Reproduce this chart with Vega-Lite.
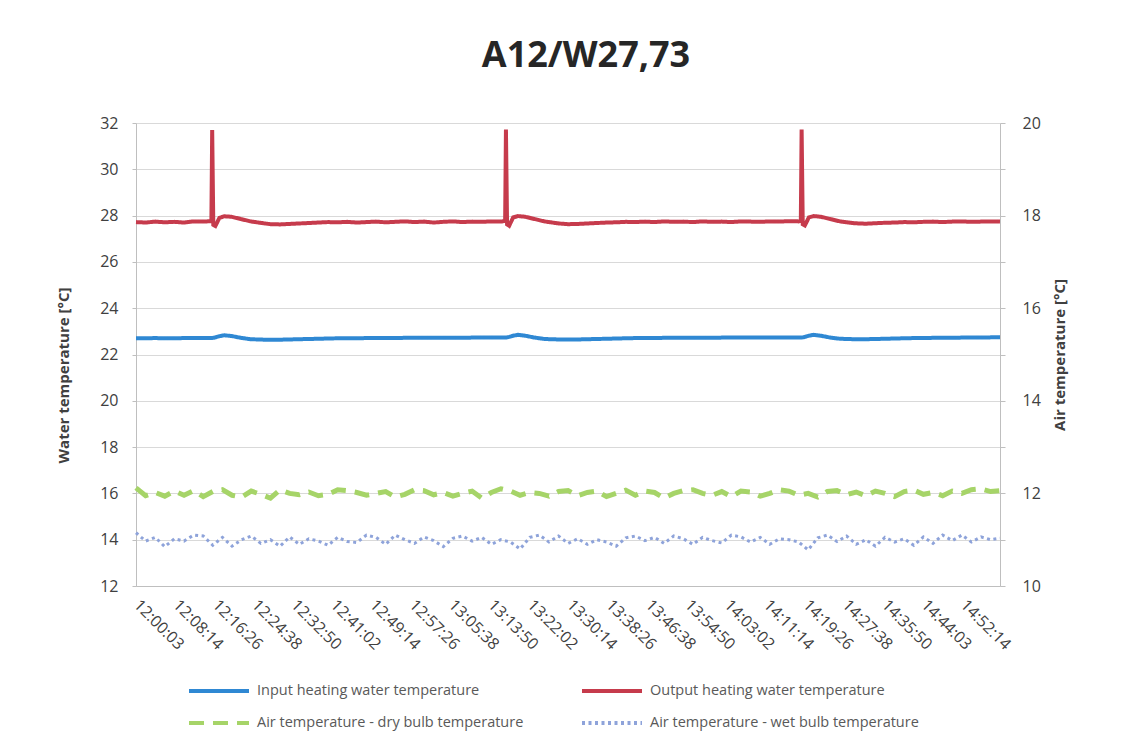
{
  "$schema": "https://vega.github.io/schema/vega-lite/v6.json",
  "width": 864,
  "height": 463,
  "autosize": {"type": "none"},
  "padding": {"left": 136, "top": 123, "right": 128, "bottom": 167},
  "background": "white",
  "config": {
    "font": "Open Sans",
    "view": {"stroke": null},
    "axis": {"labelColor": "#404040", "titleColor": "#404040", "domainColor": "#bfbfbf", "tickColor": "#bfbfbf", "gridColor": "#d9d9d9"}
  },
  "title": {"text": "A12/W27,73", "fontSize": 36, "fontWeight": "bold", "font": "Open Sans", "color": "#262626", "anchor": "middle", "dx": 18, "offset": 40},
  "datasets": {
    "water": [
      {"t": "12:00:03", "in": 22.70, "out": 27.72},
      {"t": "12:02:03", "in": 22.70, "out": 27.70},
      {"t": "12:04:03", "in": 22.71, "out": 27.74},
      {"t": "12:06:03", "in": 22.70, "out": 27.71},
      {"t": "12:08:03", "in": 22.70, "out": 27.73},
      {"t": "12:10:03", "in": 22.71, "out": 27.70},
      {"t": "12:12:03", "in": 22.71, "out": 27.75},
      {"t": "12:14:03", "in": 22.71, "out": 27.74},
      {"t": "12:15:45", "in": 22.71, "out": 27.76},
      {"t": "12:15:55", "in": 22.71, "out": 31.70},
      {"t": "12:16:09", "in": 22.72, "out": 27.60},
      {"t": "12:16:35", "in": 22.74, "out": 27.55},
      {"t": "12:17:25", "in": 22.79, "out": 27.90},
      {"t": "12:18:25", "in": 22.83, "out": 27.97},
      {"t": "12:19:55", "in": 22.80, "out": 27.95},
      {"t": "12:21:55", "in": 22.72, "out": 27.85},
      {"t": "12:23:55", "in": 22.66, "out": 27.75},
      {"t": "12:26:55", "in": 22.64, "out": 27.66},
      {"t": "12:28:03", "in": 22.64, "out": 27.63},
      {"t": "12:30:03", "in": 22.64, "out": 27.62},
      {"t": "12:32:03", "in": 22.65, "out": 27.64},
      {"t": "12:34:03", "in": 22.66, "out": 27.66},
      {"t": "12:36:03", "in": 22.67, "out": 27.68},
      {"t": "12:38:03", "in": 22.68, "out": 27.70},
      {"t": "12:40:03", "in": 22.69, "out": 27.72},
      {"t": "12:42:03", "in": 22.70, "out": 27.71},
      {"t": "12:44:03", "in": 22.70, "out": 27.73},
      {"t": "12:46:03", "in": 22.70, "out": 27.70},
      {"t": "12:48:03", "in": 22.71, "out": 27.72},
      {"t": "12:50:03", "in": 22.71, "out": 27.74},
      {"t": "12:52:03", "in": 22.71, "out": 27.71},
      {"t": "12:54:03", "in": 22.71, "out": 27.73},
      {"t": "12:56:03", "in": 22.72, "out": 27.75},
      {"t": "12:58:03", "in": 22.72, "out": 27.72},
      {"t": "13:00:03", "in": 22.72, "out": 27.74},
      {"t": "13:02:03", "in": 22.72, "out": 27.70},
      {"t": "13:04:03", "in": 22.72, "out": 27.73},
      {"t": "13:06:03", "in": 22.72, "out": 27.75},
      {"t": "13:08:03", "in": 22.72, "out": 27.72},
      {"t": "13:10:03", "in": 22.73, "out": 27.74},
      {"t": "13:12:03", "in": 22.73, "out": 27.73},
      {"t": "13:14:03", "in": 22.73, "out": 27.75},
      {"t": "13:16:03", "in": 22.73, "out": 27.74},
      {"t": "13:16:56", "in": 22.73, "out": 27.77},
      {"t": "13:17:06", "in": 22.73, "out": 31.72},
      {"t": "13:17:20", "in": 22.74, "out": 27.62},
      {"t": "13:17:46", "in": 22.76, "out": 27.56},
      {"t": "13:18:36", "in": 22.81, "out": 27.92},
      {"t": "13:19:36", "in": 22.85, "out": 27.98},
      {"t": "13:21:06", "in": 22.81, "out": 27.95},
      {"t": "13:23:06", "in": 22.73, "out": 27.85},
      {"t": "13:25:06", "in": 22.67, "out": 27.75},
      {"t": "13:28:06", "in": 22.65, "out": 27.66},
      {"t": "13:30:03", "in": 22.65, "out": 27.63},
      {"t": "13:32:03", "in": 22.65, "out": 27.64},
      {"t": "13:34:03", "in": 22.66, "out": 27.66},
      {"t": "13:36:03", "in": 22.67, "out": 27.68},
      {"t": "13:38:03", "in": 22.68, "out": 27.70},
      {"t": "13:40:03", "in": 22.69, "out": 27.71},
      {"t": "13:42:03", "in": 22.70, "out": 27.73},
      {"t": "13:44:03", "in": 22.71, "out": 27.72},
      {"t": "13:46:03", "in": 22.71, "out": 27.74},
      {"t": "13:48:03", "in": 22.71, "out": 27.72},
      {"t": "13:50:03", "in": 22.72, "out": 27.75},
      {"t": "13:52:03", "in": 22.72, "out": 27.73},
      {"t": "13:54:03", "in": 22.72, "out": 27.74},
      {"t": "13:56:03", "in": 22.72, "out": 27.72},
      {"t": "13:58:03", "in": 22.72, "out": 27.75},
      {"t": "14:00:03", "in": 22.72, "out": 27.73},
      {"t": "14:02:03", "in": 22.73, "out": 27.74},
      {"t": "14:04:03", "in": 22.73, "out": 27.72},
      {"t": "14:06:03", "in": 22.73, "out": 27.75},
      {"t": "14:08:03", "in": 22.73, "out": 27.74},
      {"t": "14:10:03", "in": 22.73, "out": 27.73},
      {"t": "14:12:03", "in": 22.73, "out": 27.75},
      {"t": "14:14:03", "in": 22.73, "out": 27.74},
      {"t": "14:16:03", "in": 22.73, "out": 27.76},
      {"t": "14:18:03", "in": 22.73, "out": 27.75},
      {"t": "14:18:31", "in": 22.73, "out": 27.78},
      {"t": "14:18:41", "in": 22.73, "out": 31.72},
      {"t": "14:18:55", "in": 22.74, "out": 27.62},
      {"t": "14:19:21", "in": 22.76, "out": 27.57},
      {"t": "14:20:11", "in": 22.81, "out": 27.92},
      {"t": "14:21:11", "in": 22.85, "out": 27.98},
      {"t": "14:22:41", "in": 22.81, "out": 27.95},
      {"t": "14:24:41", "in": 22.73, "out": 27.85},
      {"t": "14:26:41", "in": 22.68, "out": 27.75},
      {"t": "14:29:41", "in": 22.66, "out": 27.67},
      {"t": "14:32:03", "in": 22.66, "out": 27.65},
      {"t": "14:34:03", "in": 22.67, "out": 27.67},
      {"t": "14:36:03", "in": 22.68, "out": 27.69},
      {"t": "14:38:03", "in": 22.69, "out": 27.70},
      {"t": "14:40:03", "in": 22.70, "out": 27.72},
      {"t": "14:42:03", "in": 22.71, "out": 27.71},
      {"t": "14:44:03", "in": 22.71, "out": 27.73},
      {"t": "14:46:03", "in": 22.72, "out": 27.74},
      {"t": "14:48:03", "in": 22.72, "out": 27.72},
      {"t": "14:50:03", "in": 22.72, "out": 27.74},
      {"t": "14:52:03", "in": 22.73, "out": 27.75},
      {"t": "14:54:03", "in": 22.73, "out": 27.73},
      {"t": "14:56:03", "in": 22.73, "out": 27.74},
      {"t": "14:58:03", "in": 22.74, "out": 27.75},
      {"t": "15:00:00", "in": 22.74, "out": 27.74}
    ],
    "air": [
      {"t": "12:00:03", "dry": 12.12, "wet": 11.15},
      {"t": "12:02:03", "dry": 11.95, "wet": 10.97},
      {"t": "12:04:03", "dry": 12.02, "wet": 11.05},
      {"t": "12:06:03", "dry": 11.94, "wet": 10.85},
      {"t": "12:08:03", "dry": 12.05, "wet": 11.02},
      {"t": "12:10:03", "dry": 11.96, "wet": 10.97},
      {"t": "12:12:03", "dry": 12.06, "wet": 11.10},
      {"t": "12:14:03", "dry": 11.93, "wet": 11.08},
      {"t": "12:16:03", "dry": 12.04, "wet": 10.88},
      {"t": "12:18:03", "dry": 12.08, "wet": 11.05},
      {"t": "12:20:03", "dry": 11.96, "wet": 10.86},
      {"t": "12:22:03", "dry": 11.92, "wet": 11.00},
      {"t": "12:24:03", "dry": 12.05, "wet": 11.08},
      {"t": "12:26:03", "dry": 11.98, "wet": 10.92},
      {"t": "12:28:03", "dry": 11.90, "wet": 11.00},
      {"t": "12:30:03", "dry": 12.08, "wet": 10.86},
      {"t": "12:32:03", "dry": 12.00, "wet": 11.06},
      {"t": "12:34:03", "dry": 11.97, "wet": 10.90},
      {"t": "12:36:03", "dry": 12.03, "wet": 11.02},
      {"t": "12:38:03", "dry": 11.95, "wet": 10.97},
      {"t": "12:40:03", "dry": 11.98, "wet": 10.88},
      {"t": "12:42:03", "dry": 12.08, "wet": 11.05},
      {"t": "12:44:03", "dry": 12.06, "wet": 10.96},
      {"t": "12:46:03", "dry": 12.02, "wet": 10.94},
      {"t": "12:48:03", "dry": 11.96, "wet": 11.10},
      {"t": "12:50:03", "dry": 12.00, "wet": 11.05},
      {"t": "12:52:03", "dry": 12.04, "wet": 10.90},
      {"t": "12:54:03", "dry": 11.92, "wet": 11.10},
      {"t": "12:56:03", "dry": 11.98, "wet": 11.00},
      {"t": "12:58:03", "dry": 12.08, "wet": 10.92},
      {"t": "13:00:03", "dry": 12.06, "wet": 11.06},
      {"t": "13:02:03", "dry": 11.97, "wet": 10.98},
      {"t": "13:04:03", "dry": 12.02, "wet": 10.85},
      {"t": "13:06:03", "dry": 11.94, "wet": 11.03},
      {"t": "13:08:03", "dry": 12.00, "wet": 11.08},
      {"t": "13:10:03", "dry": 12.05, "wet": 10.97},
      {"t": "13:12:03", "dry": 11.90, "wet": 11.05},
      {"t": "13:14:03", "dry": 12.02, "wet": 10.90},
      {"t": "13:16:03", "dry": 12.10, "wet": 11.00},
      {"t": "13:18:03", "dry": 12.05, "wet": 10.95},
      {"t": "13:20:03", "dry": 11.96, "wet": 10.80},
      {"t": "13:22:03", "dry": 12.02, "wet": 11.05},
      {"t": "13:24:03", "dry": 12.00, "wet": 11.10},
      {"t": "13:26:03", "dry": 11.94, "wet": 10.95},
      {"t": "13:28:03", "dry": 12.04, "wet": 11.08},
      {"t": "13:30:03", "dry": 12.06, "wet": 10.92},
      {"t": "13:32:03", "dry": 11.95, "wet": 11.02},
      {"t": "13:34:03", "dry": 12.02, "wet": 10.90},
      {"t": "13:36:03", "dry": 12.05, "wet": 11.00},
      {"t": "13:38:03", "dry": 11.93, "wet": 10.95},
      {"t": "13:40:03", "dry": 12.00, "wet": 10.86},
      {"t": "13:42:03", "dry": 12.07, "wet": 11.04},
      {"t": "13:44:03", "dry": 11.96, "wet": 11.08},
      {"t": "13:46:03", "dry": 12.05, "wet": 10.98},
      {"t": "13:48:03", "dry": 12.02, "wet": 11.05},
      {"t": "13:50:03", "dry": 11.90, "wet": 10.92},
      {"t": "13:52:03", "dry": 12.00, "wet": 11.08},
      {"t": "13:54:03", "dry": 12.06, "wet": 11.02},
      {"t": "13:56:03", "dry": 12.08, "wet": 10.90},
      {"t": "13:58:03", "dry": 12.00, "wet": 11.05},
      {"t": "14:00:03", "dry": 11.96, "wet": 10.98},
      {"t": "14:02:03", "dry": 12.04, "wet": 10.93},
      {"t": "14:04:03", "dry": 11.93, "wet": 11.10},
      {"t": "14:06:03", "dry": 12.05, "wet": 11.06},
      {"t": "14:08:03", "dry": 12.03, "wet": 10.95},
      {"t": "14:10:03", "dry": 11.94, "wet": 11.05},
      {"t": "14:12:03", "dry": 12.00, "wet": 10.90},
      {"t": "14:14:03", "dry": 12.08, "wet": 11.02},
      {"t": "14:16:03", "dry": 12.05, "wet": 11.00},
      {"t": "14:18:03", "dry": 11.96, "wet": 10.95},
      {"t": "14:20:03", "dry": 12.00, "wet": 10.78},
      {"t": "14:22:03", "dry": 11.92, "wet": 11.04},
      {"t": "14:24:03", "dry": 12.04, "wet": 11.10},
      {"t": "14:26:03", "dry": 12.06, "wet": 10.96},
      {"t": "14:28:03", "dry": 11.97, "wet": 11.08},
      {"t": "14:30:03", "dry": 12.03, "wet": 10.90},
      {"t": "14:32:03", "dry": 11.95, "wet": 11.00},
      {"t": "14:34:03", "dry": 12.05, "wet": 10.86},
      {"t": "14:36:03", "dry": 12.00, "wet": 11.05},
      {"t": "14:38:03", "dry": 11.93, "wet": 10.95},
      {"t": "14:40:03", "dry": 12.04, "wet": 11.02},
      {"t": "14:42:03", "dry": 12.07, "wet": 10.88},
      {"t": "14:44:03", "dry": 11.98, "wet": 11.06},
      {"t": "14:46:03", "dry": 12.02, "wet": 10.92},
      {"t": "14:48:03", "dry": 11.95, "wet": 11.10},
      {"t": "14:50:03", "dry": 12.05, "wet": 10.98},
      {"t": "14:52:03", "dry": 12.00, "wet": 11.10},
      {"t": "14:54:03", "dry": 12.08, "wet": 10.95},
      {"t": "14:56:03", "dry": 12.10, "wet": 11.06},
      {"t": "14:58:03", "dry": 12.04, "wet": 11.00},
      {"t": "15:00:00", "dry": 12.06, "wet": 11.03}
    ]
  },
  "layer": [
    {
      "data": {"name": "water", "format": {"parse": {"t": "date:'%H:%M:%S'"}}},
      "layer": [
        {
          "mark": {"type": "line", "strokeWidth": 4},
          "encoding": {
            "x": {
              "field": "t", "type": "temporal",
              "scale": {"domain": [
                {"year": 1900, "month": 1, "date": 1, "hours": 12, "minutes": 0, "seconds": 3},
                {"year": 1900, "month": 1, "date": 1, "hours": 15, "minutes": 0, "seconds": 0}
              ]},
              "axis": {
                "title": null, "format": "%H:%M:%S", "labelAngle": 45, "labelAlign": "left", "labelBaseline": "middle",
                "labelFontSize": 16, "labelPadding": 16, "ticks": false, "grid": false, "labelFlush": false, "labelOverlap": false, "labelBound": false,
                "values": [
                  {"year": 1900, "month": 1, "date": 1, "hours": 12, "minutes": 0, "seconds": 3},
                  {"year": 1900, "month": 1, "date": 1, "hours": 12, "minutes": 8, "seconds": 14},
                  {"year": 1900, "month": 1, "date": 1, "hours": 12, "minutes": 16, "seconds": 26},
                  {"year": 1900, "month": 1, "date": 1, "hours": 12, "minutes": 24, "seconds": 38},
                  {"year": 1900, "month": 1, "date": 1, "hours": 12, "minutes": 32, "seconds": 50},
                  {"year": 1900, "month": 1, "date": 1, "hours": 12, "minutes": 41, "seconds": 2},
                  {"year": 1900, "month": 1, "date": 1, "hours": 12, "minutes": 49, "seconds": 14},
                  {"year": 1900, "month": 1, "date": 1, "hours": 12, "minutes": 57, "seconds": 26},
                  {"year": 1900, "month": 1, "date": 1, "hours": 13, "minutes": 5, "seconds": 38},
                  {"year": 1900, "month": 1, "date": 1, "hours": 13, "minutes": 13, "seconds": 50},
                  {"year": 1900, "month": 1, "date": 1, "hours": 13, "minutes": 22, "seconds": 2},
                  {"year": 1900, "month": 1, "date": 1, "hours": 13, "minutes": 30, "seconds": 14},
                  {"year": 1900, "month": 1, "date": 1, "hours": 13, "minutes": 38, "seconds": 26},
                  {"year": 1900, "month": 1, "date": 1, "hours": 13, "minutes": 46, "seconds": 38},
                  {"year": 1900, "month": 1, "date": 1, "hours": 13, "minutes": 54, "seconds": 50},
                  {"year": 1900, "month": 1, "date": 1, "hours": 14, "minutes": 3, "seconds": 2},
                  {"year": 1900, "month": 1, "date": 1, "hours": 14, "minutes": 11, "seconds": 14},
                  {"year": 1900, "month": 1, "date": 1, "hours": 14, "minutes": 19, "seconds": 26},
                  {"year": 1900, "month": 1, "date": 1, "hours": 14, "minutes": 27, "seconds": 38},
                  {"year": 1900, "month": 1, "date": 1, "hours": 14, "minutes": 35, "seconds": 50},
                  {"year": 1900, "month": 1, "date": 1, "hours": 14, "minutes": 44, "seconds": 3},
                  {"year": 1900, "month": 1, "date": 1, "hours": 14, "minutes": 52, "seconds": 14}
                ]
              }
            },
            "y": {
              "field": "in", "type": "quantitative",
              "scale": {"domain": [12, 32], "nice": false, "zero": false},
              "axis": {
                "title": "Water temperature [°C]", "titleFontSize": 15, "titleFontWeight": "bold", "titlePadding": 28, "titleY": 252,
                "values": [12, 14, 16, 18, 20, 22, 24, 26, 28, 30, 32], "labelFontSize": 16, "labelPadding": 14, "tickSize": 4, "grid": true
              }
            },
            "color": {
              "datum": "in", "type": "nominal",
              "scale": {"domain": ["in", "out", "dry", "wet"], "range": ["#2F88D3", "#C63B4C", "#A6D468", "#8EA3DA"]},
              "legend": {
                "title": null, "orient": "none", "direction": "horizontal", "legendX": 66, "legendY": 551, "columns": 2, "columnPadding": 50, "rowPadding": 7,
                "symbolType": "M-2,0L2,0", "symbolSize": 900, "symbolStrokeWidth": 4, "labelFontSize": 14.5, "labelColor": "#595959", "labelOffset": 21, "labelLimit": 400,
                "labelExpr": "datum.label == 'in' ? 'Input heating water temperature' : datum.label == 'out' ? 'Output heating water temperature' : datum.label == 'dry' ? 'Air temperature - dry bulb temperature' : 'Air temperature - wet bulb temperature'"
              }
            },
            "strokeDash": {
              "datum": "in", "type": "nominal",
              "scale": {"domain": ["in", "out", "dry", "wet"], "range": [[1, 0], [1, 0], [15, 9], [3, 3.5]]},
              "legend": {
                "title": null, "orient": "none", "direction": "horizontal", "legendX": 66, "legendY": 551, "columns": 2, "columnPadding": 50, "rowPadding": 7,
                "symbolType": "M-2,0L2,0", "symbolSize": 900, "symbolStrokeWidth": 4, "labelFontSize": 14.5, "labelColor": "#595959", "labelOffset": 21, "labelLimit": 400,
                "labelExpr": "datum.label == 'in' ? 'Input heating water temperature' : datum.label == 'out' ? 'Output heating water temperature' : datum.label == 'dry' ? 'Air temperature - dry bulb temperature' : 'Air temperature - wet bulb temperature'"
              }
            }
          }
        },
        {
          "mark": {"type": "line", "strokeWidth": 4},
          "encoding": {
            "x": {"field": "t", "type": "temporal"},
            "y": {"field": "out", "type": "quantitative"},
            "color": {"datum": "out", "type": "nominal"},
            "strokeDash": {"datum": "out", "type": "nominal"}
          }
        }
      ]
    },
    {
      "data": {"name": "air", "format": {"parse": {"t": "date:'%H:%M:%S'"}}},
      "layer": [
        {
          "mark": {"type": "line", "strokeWidth": 5},
          "encoding": {
            "x": {"field": "t", "type": "temporal"},
            "y": {
              "field": "dry", "type": "quantitative",
              "scale": {"domain": [10, 20], "nice": false, "zero": false},
              "axis": {
                "orient": "right", "title": "Air temperature [°C]", "titleFontSize": 15, "titleFontWeight": "bold", "titleAngle": 270, "titleBaseline": "top", "titlePadding": 12,
                "values": [10, 11, 12, 13, 14, 15, 16, 17, 18, 19, 20], "labelExpr": "datum.value % 2 == 0 ? datum.label : ''",
                "labelFontSize": 16, "labelPadding": 17, "tickSize": 5, "grid": false
              }
            },
            "color": {"datum": "dry", "type": "nominal"},
            "strokeDash": {"datum": "dry", "type": "nominal"}
          }
        },
        {
          "mark": {"type": "line", "strokeWidth": 3},
          "encoding": {
            "x": {"field": "t", "type": "temporal"},
            "y": {"field": "wet", "type": "quantitative"},
            "color": {"datum": "wet", "type": "nominal"},
            "strokeDash": {"datum": "wet", "type": "nominal"}
          }
        }
      ]
    }
  ],
  "resolve": {"scale": {"y": "independent"}}
}
